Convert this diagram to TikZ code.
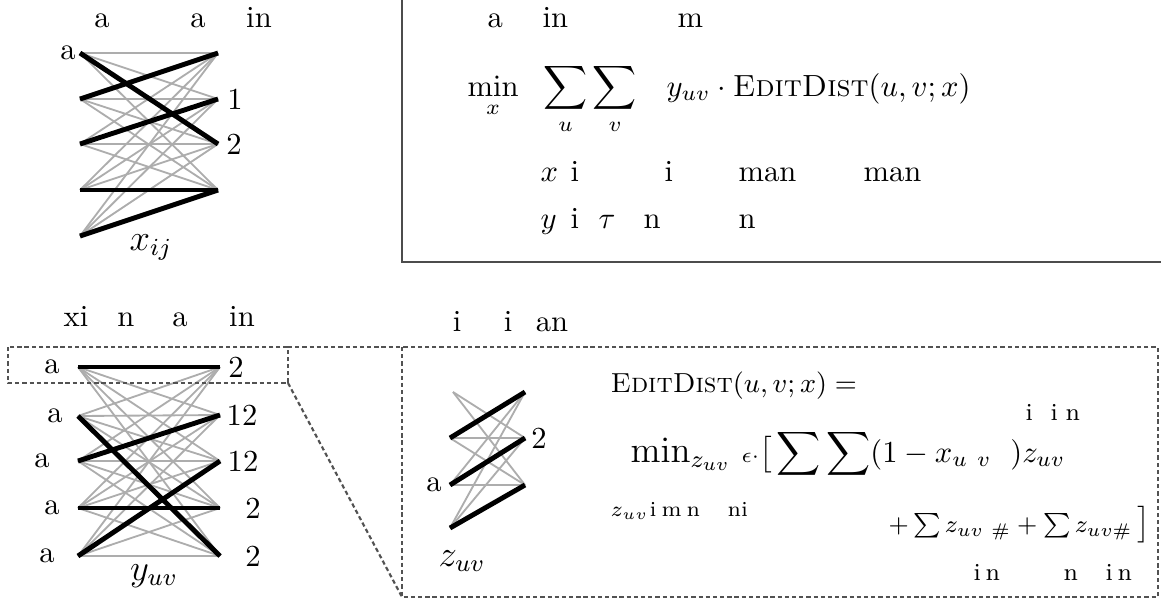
\documentclass[tikz,border=0pt]{standalone}
\usepackage{amsmath}
\begin{document}
\begin{tikzpicture}[x=0.3268pt,y=-0.3268pt,
  glink/.style={draw=black!32, line width=0.6pt},
  blink/.style={draw=black, line width=1.6pt},
  lbl/.style={inner sep=0pt},
  frag/.style={anchor=base west, inner sep=0pt},
  ttl/.style={anchor=base, inner sep=0pt},
  boxline/.style={draw=black!70, line width=0.65pt},
  dbox/.style={draw=black!68, line width=0.7pt, dash pattern=on 1.4pt off 0.95pt}]
\useasboundingbox (0,0) rectangle (1161,604);

% ---------- x graph ----------
\foreach \i/\y in {1/53,2/99,3/144,4/190,5/236} \coordinate (xa\i) at (80,\y);
\foreach \j/\y in {1/53,2/99,3/144,4/190} \coordinate (xb\j) at (218,\y);
\foreach \i in {1,...,5} \foreach \j in {1,...,4} \draw[glink] (xa\i) -- (xb\j);
\draw[blink] (xa1) -- (xb3);
\draw[blink] (xa2) -- (xb1);
\draw[blink] (xa3) -- (xb2);
\draw[blink] (xa4) -- (xb4);
\draw[blink] (xa5) -- (xb4);
\node[ttl] (xt1) at (102,27) {a};
\node[ttl] (xt2) at (198,27) {a};
\node[ttl] (xt3) at (259,27) {in};
\node[lbl] (xl1) at (68,53) {a};
\node[lbl] (xr2) at (235,99) {1};
\node[lbl] (xr3) at (234,144) {2};
\node[ttl] (xlab) at (151,250) {\large$x_{ij}$};

% ---------- top box ----------
\draw[boxline] (402,0) -- (402,262) -- (1161,262);
\node[frag] (p1) at (487,27) {a};
\node[frag] (p2) at (542,27) {in};
\node[frag] (p3) at (677,27) {m};
\node[frag] (obj) at (467,96) {$\displaystyle\min_x\hspace{6.5pt}\sum_{u}\sum_{v}\hspace{8pt}y_{uv}\cdot\textsc{EditDist}(u,v;x)$};
\node[frag] (r1) at (540,181) {$x$};
\node[frag] (r2) at (570,181) {i};
\node[frag] (r3) at (664,181) {i};
\node[frag] (r4) at (738,181) {man};
\node[frag] (r5) at (863,181) {man};
\node[frag] (s1) at (540,228) {$y$};
\node[frag] (s2) at (570,228) {i};
\node[frag] (s3) at (598,228) {$\tau$};
\node[frag] (s4) at (643,228) {n};
\node[frag] (s5) at (738,228) {n};

% ---------- y graph ----------
\foreach \i/\y in {1/367,2/416,3/461,4/508,5/556} \coordinate (ya\i) at (78,\y);
\foreach \j/\y in {1/367,2/415,3/461,4/508,5/556} \coordinate (yb\j) at (220,\y);
\foreach \i in {1,...,5} \foreach \j in {1,...,5} \draw[glink] (ya\i) -- (yb\j);
\draw[blink] (ya1) -- (yb1);
\draw[blink] (ya2) -- (yb5);
\draw[blink] (ya3) -- (yb2);
\draw[blink] (ya4) -- (yb4);
\draw[blink] (ya5) -- (yb3);
\node[ttl] (yt1) at (76,326) {xi};
\node[ttl] (yt2) at (126,326) {n};
\node[ttl] (yt3) at (180,326) {a};
\node[ttl] (yt4) at (242,326) {in};
\node[lbl] (yl1) at (52,367) {a};
\node[lbl] (yl2) at (55,416) {a};
\node[lbl] (yl3) at (42,461) {a};
\node[lbl] (yl4) at (52,508) {a};
\node[lbl] (yl5) at (47,556) {a};
\node[lbl] (yr1) at (236,367) {2};
\node[lbl] (yr2) at (242,415) {12};
\node[lbl] (yr3) at (243,461) {12};
\node[lbl] (yr4) at (253,508) {2};
\node[lbl] (yr5) at (253,556) {2};
\node[ttl] (ylab) at (154,580) {\large$y_{uv}$};

% ---------- zoom boxes ----------
\coordinate (sb1) at (8,347);
\coordinate (sb2) at (288,383);
\coordinate (bb1) at (402,347);
\coordinate (bb2) at (1158,597);
\draw[dbox] (sb1) rectangle (sb2);
\draw[dbox] (bb1) rectangle (bb2);
\draw[dbox] (sb1 -| sb2) -- (bb1);
\draw[dbox] (sb2) -- (bb1 |- bb2);

% ---------- z graph ----------
\coordinate (za1) at (453,392);
\coordinate (za2) at (450,438);
\coordinate (za3) at (450,485);
\coordinate (za4) at (450,528);
\coordinate (zb1) at (525,392);
\coordinate (zb2) at (525,438);
\coordinate (zb3) at (525,485);
\foreach \i/\j in {1/2,1/3,2/1,2/2,2/3,3/1,3/2,3/3,4/1,4/2,4/3} \draw[glink] (za\i) -- (zb\j);
\draw[blink] (za2) -- (zb1);
\draw[blink] (za3) -- (zb2);
\draw[blink] (za4) -- (zb3);
\node[ttl] (zt1) at (457,331) {i};
\node[ttl] (zt2) at (508,331) {i};
\node[ttl] (zt3) at (552,331) {an};
\node[lbl] (zr2) at (539,438) {2};
\node[lbl] (zl3) at (434,485) {a};
\node[ttl] (zlab) at (462,566) {\large$z_{uv}$};

% ---------- formula ----------
\node[frag] (f1) at (610,392) {\small$\textsc{EditDist}(u,v;x) =$};
\node[frag] (f2) at (630,462) {{\large$\min_{z_{uv}}$}\ {\scriptsize$\epsilon\cdot$}$\big[\displaystyle\sum\sum(1-x_{u\ v}\;\ )z_{uv}$};
\node[frag] (g1) at (610,516) {\scriptsize$z_{uv}$};
\node[frag] (g2) at (649,516) {\scriptsize i};
\node[frag] (g3) at (661,516) {\scriptsize m};
\node[frag] (g4) at (686,516) {\scriptsize n};
\node[frag] (g5) at (727,516) {\scriptsize ni};
\node[frag] (h1) at (1025,420) {\footnotesize i};
\node[frag] (h2) at (1050,420) {\footnotesize i};
\node[frag] (h3) at (1065,420) {\footnotesize n};
\node[frag] (f3) at (888,532) {\footnotesize$+\sum z_{uv\ \#}+\sum z_{uv\#}$};
\node[frag] (f4) at (1137,532) {$\big]$};
\node[frag] (k1) at (973,580) {\footnotesize i};
\node[frag] (k2) at (985,580) {\footnotesize n};
\node[frag] (k3) at (1063,580) {\footnotesize n};
\node[frag] (k4) at (1105,580) {\footnotesize i};
\node[frag] (k5) at (1117,580) {\footnotesize n};
\end{tikzpicture}
\end{document}
